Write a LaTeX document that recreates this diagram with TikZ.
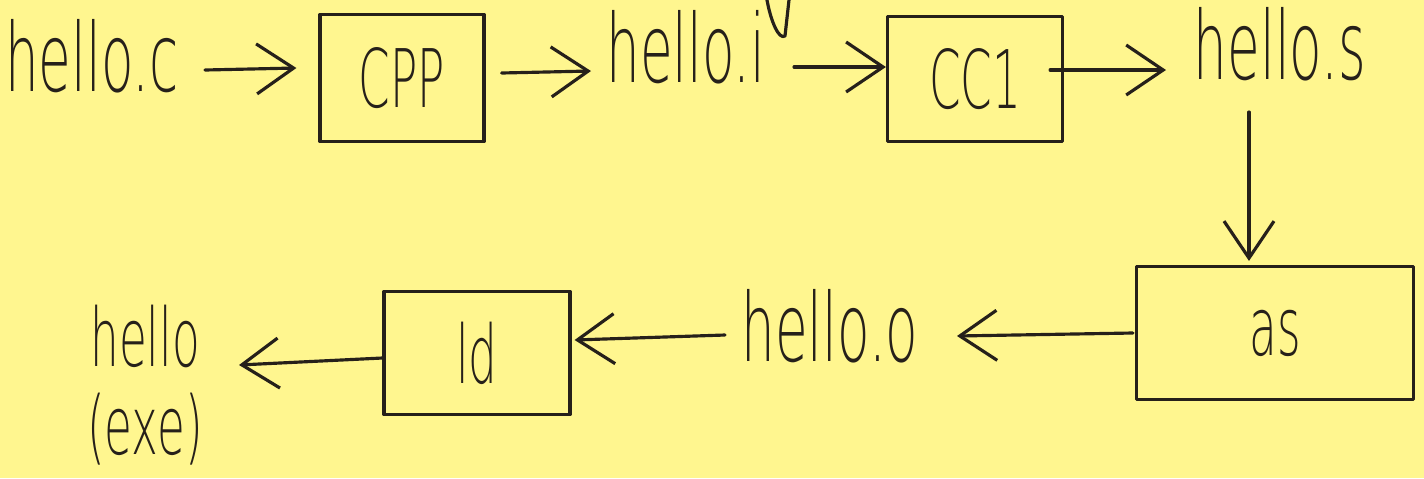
\documentclass[tikz,border=0pt]{standalone}
\usepackage{fontspec}
\newfontfamily\hand{DejaVu Sans ExtraLight}[FakeStretch=0.56]
\usetikzlibrary{arrows.meta,calc}
\definecolor{paper}{RGB}{255,246,143}
\definecolor{ink}{RGB}{38,32,26}
\begin{document}
\begin{tikzpicture}[x=0.1mm,y=-0.1mm,
  pen/.style={draw=ink, line width=0.9pt, line cap=round, line join=round},
  file/.style={text=ink, font=\hand\fontsize{27}{27}\selectfont, inner sep=0pt, align=center},
  tool/.style={pen, rectangle, text=ink, font=\hand\fontsize{23}{23}\selectfont, inner sep=0pt},
  flow/.style={pen, -{Straight Barb[length=3.7mm,width=5mm,line width=0.9pt]}}]
  % sheet
  \fill[paper] (0,0) rectangle (1424,478);
  \useasboundingbox (0,0) rectangle (1424,478);

  % files
  \node[file] (hc) at (92,56)   {hello.c};
  \node[file] (hi) at (686,47)  {hello.i};
  \node[file] (hs) at (1280,44) {hello.s};
  \node[file] (ho) at (830,326) {hello.o};
  \node[file, font=\hand\fontsize{23}{25}\selectfont] (hx) at (145,385) {hello\\(exe)};

  % tools
  \node[tool, minimum width=16.4mm, minimum height=12.7mm] (cpp) at (402,78)  {CPP};
  \node[tool, minimum width=17.5mm, minimum height=12.5mm] (cc1) at (975,79)  {CC1};
  \node[tool, minimum width=27.7mm, minimum height=13.3mm] (as)  at (1275,333) {as};
  \node[tool, minimum width=18.6mm, minimum height=12.3mm] (ld)  at (477,353) {ld};

  % pipeline
  \draw[flow] ($(hc)+(113,14)$) -- ($(cpp.west)+(-22,-10)$);
  \draw[flow] ($(cpp.east)+(16,-5)$) -- ($(hi)+(-95,24)$);
  \draw[flow] ($(hi)+(108,20)$) -- ($(cc1.west)+(0,-12)$);
  \draw[flow] ($(cc1.east)+(-14,-9)$) -- ($(hs)+(-114,26)$);
  \draw[flow] ($(hs)+(-31,68)$) -- ($(as.north)+(-26,-4)$);
  \draw[flow] ($(as.west)+(-2,0)$) -- ($(ho)+(127,10)$);
  \draw[flow] ($(ho)+(-105,9)$) -- ($(ld.east)+(3,-13)$);
  \draw[flow] ($(ld.west)+(0,5)$) -- ($(hx)+(94,-20)$);

  % loop of a letter from the line above
  \draw[pen] (767,0) .. controls (771,22) and (779,40) .. (785,36) -- (789,0);
\end{tikzpicture}
\end{document}
